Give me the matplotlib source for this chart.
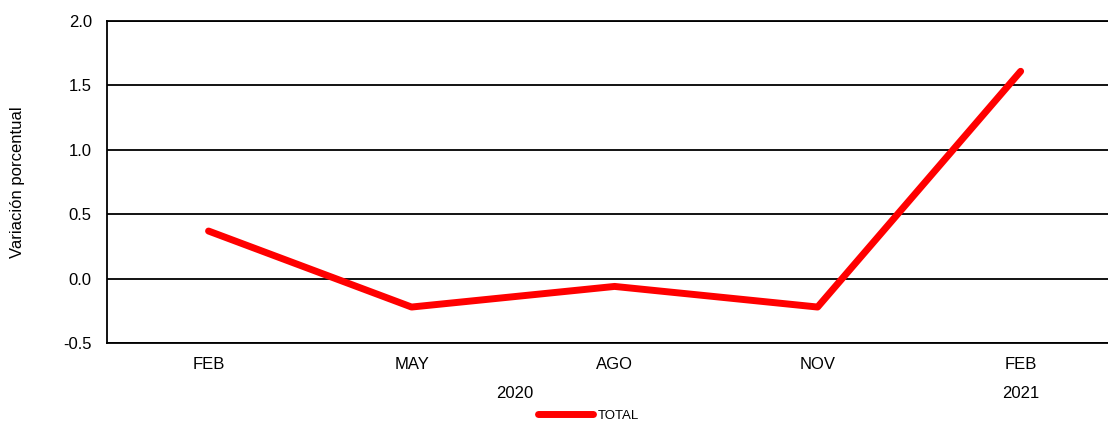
import matplotlib
matplotlib.use("Agg")
import matplotlib.pyplot as plt

plt.rcParams['font.family'] = ['Liberation Sans', 'DejaVu Sans']

months = ["FEB", "MAY", "AGO", "NOV", "FEB"]
years = ["2020", "2021"]
total = [0.37, -0.22, -0.06, -0.22, 1.61]
yticks = [-0.5, 0.0, 0.5, 1.0, 1.5, 2.0]

fig = plt.figure(figsize=(11.08, 4.21), dpi=100)
ax = fig.add_axes([0.0966, 0.185, 0.94, 0.765])
x = list(range(len(months)))
ax.plot(x, total, color="#ff0000", lw=5, solid_capstyle="round", label="TOTAL", zorder=3)

ax.set_xlim(-0.5, 4.63)
ax.set_ylim(-0.5, 2.0)
ax.set_yticks(yticks)
ax.set_yticklabels([f"{v:.1f}" for v in yticks], fontsize=12)
ax.set_xticks(x)
ax.set_xticklabels(months, fontsize=12)
ax.tick_params(axis="y", length=0, pad=11)
ax.tick_params(axis="x", length=0, pad=10)
for v in yticks:
    ax.axhline(v, color="black", lw=1.3, zorder=1)
ax.spines["right"].set_visible(False)
for s in ["top", "left", "bottom"]:
    ax.spines[s].set_linewidth(1.3)
ax.set_ylabel("Variación porcentual", fontsize=12)
ax.yaxis.set_label_coords(-0.079, 0.5)

ax.text(1.51, -0.89, years[0], ha="center", va="center", fontsize=12, clip_on=False)
ax.text(4.0, -0.89, years[1], ha="center", va="center", fontsize=12, clip_on=False)

leg = fig.legend(loc="center", bbox_to_anchor=(0.531, 0.013), frameon=False, fontsize=9.5,
                 handlelength=4.2, handletextpad=0.3, borderaxespad=0.1)
fig.savefig("out.png", dpi=100)
